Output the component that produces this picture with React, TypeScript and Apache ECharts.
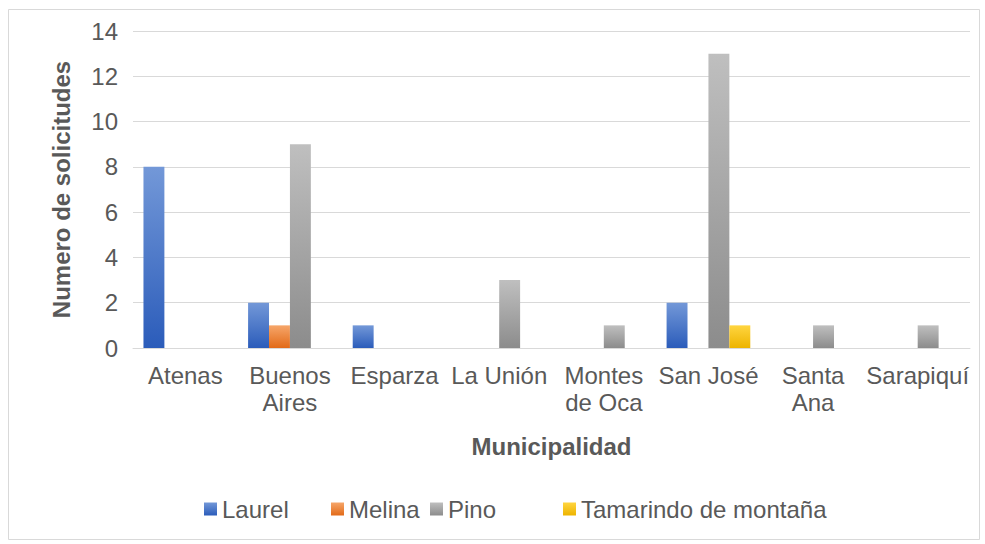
import React, { useEffect, useRef } from "react";
import * as echarts from "echarts";

const categories = ["Atenas", "Buenos Aires", "Esparza", "La Unión", "Montes de Oca", "San José", "Santa Ana", "Sarapiquí"];
const laurel = [8, 2, 1, 0, 0, 2, 0, 0];
const melina = [0, 1, 0, 0, 0, 0, 0, 0];
const pino = [0, 9, 0, 3, 1, 13, 1, 1];
const tamarindo = [0, 0, 0, 0, 0, 1, 0, 0];
const seriesNames = ["Laurel", "Melina", "Pino", "Tamarindo de montaña"];
const yTicks = [0, 14, 2];

const grad = (top: string, bottom: string) =>
  new echarts.graphic.LinearGradient(0, 0, 0, 1, [
    { offset: 0, color: top },
    { offset: 1, color: bottom },
  ]);

const colors = [
  grad("#7398D8", "#2B5CBA"),
  grad("#F6A66A", "#E26A18"),
  grad("#BFBFBF", "#8C8C8C"),
  grad("#FFD540", "#EDB400"),
];

const FONT = "'Liberation Sans', Arial, sans-serif";
const TXT = "#595959";
const FS = 24;

const wrapLabel = (v: string) => (v.indexOf(" ") > 0 && v.length >= 9 ? v.replace(" ", "\n") : v);

export default function App() {
  const ref = useRef<HTMLDivElement>(null);
  useEffect(() => {
    if (!ref.current) return;
    const chart = echarts.init(ref.current, null, { renderer: "svg" });
    const values = [laurel, melina, pino, tamarindo];
    const legendLefts = [199, 326, 425, 558];
    chart.setOption({
      animation: false,
      textStyle: { fontFamily: FONT },
      graphic: [
        {
          type: "rect",
          shape: { x: 8.5, y: 9.5, width: 971, height: 530 },
          style: { fill: "none", stroke: "#d9d9d9", lineWidth: 1 },
          silent: true,
        },
      ],
      grid: { left: 133, right: 15, top: 31, bottom: 196, containLabel: false },
      legend: seriesNames.map((n, i) => ({
        data: [n],
        left: legendLefts[i],
        top: 492,
        itemWidth: 13,
        itemHeight: 13,
        itemGap: 0,
        icon: "rect",
        textStyle: { fontSize: FS, color: TXT, fontFamily: FONT },
      })),
      xAxis: {
        type: "category",
        data: categories,
        name: "Municipalidad",
        nameLocation: "middle",
        nameGap: 86,
        nameTextStyle: { fontSize: FS, fontWeight: "bold", color: TXT, fontFamily: FONT },
        axisLine: { lineStyle: { color: "#d9d9d9", width: 1 } },
        axisTick: { show: false },
        axisLabel: {
          fontSize: FS,
          color: TXT,
          fontFamily: FONT,
          margin: 14,
          interval: 0,
          lineHeight: 27,
          formatter: wrapLabel,
        },
      },
      yAxis: {
        type: "value",
        min: yTicks[0],
        max: yTicks[1],
        interval: yTicks[2],
        name: "Numero de solicitudes",
        nameLocation: "middle",
        nameGap: 60,
        nameRotate: 90,
        nameTextStyle: { fontSize: FS, fontWeight: "bold", color: TXT, fontFamily: FONT },
        axisLine: { show: false },
        axisTick: { show: false },
        splitLine: { lineStyle: { color: "#d9d9d9", width: 1 } },
        axisLabel: { fontSize: FS, color: TXT, fontFamily: FONT, margin: 15 },
      },
      series: seriesNames.map((n, i) => ({
        name: n,
        type: "bar",
        data: values[i],
        barGap: "0%",
        barCategoryGap: "20%",
        itemStyle: { color: colors[i] },
      })),
    });
    return () => chart.dispose();
  }, []);
  return <div ref={ref} style={{ width: 985, height: 544, position: "absolute", left: 0, top: 0 }} />;
}
